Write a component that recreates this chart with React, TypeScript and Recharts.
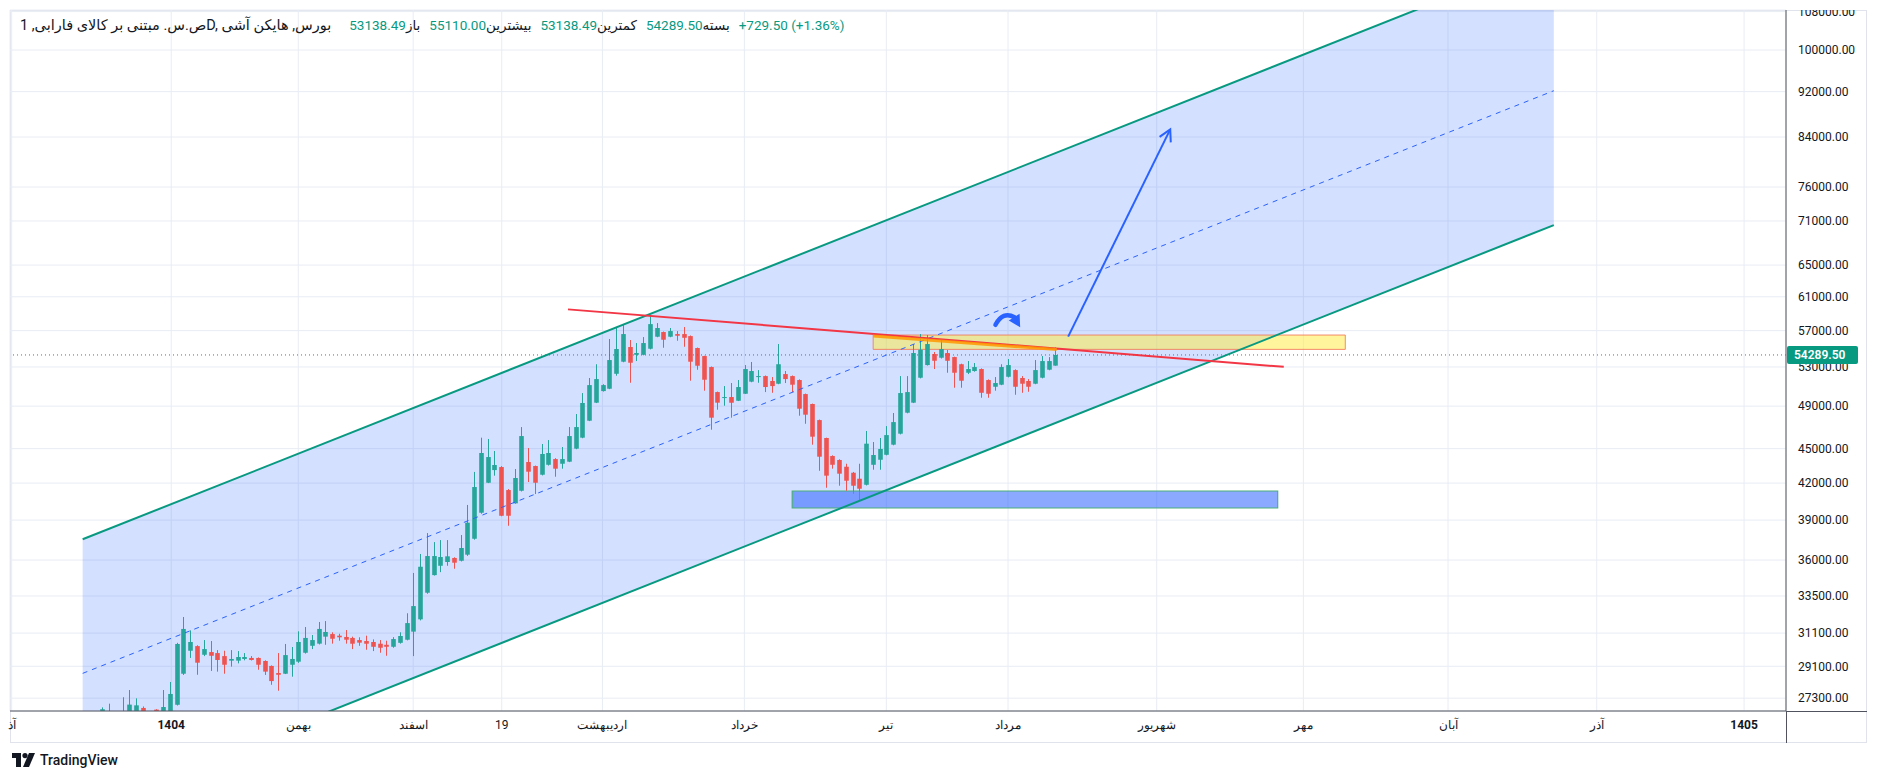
import React from 'react';
import {
  ComposedChart,
  Bar,
  XAxis,
  YAxis,
  CartesianGrid,
  ReferenceLine,
  ReferenceArea,
  ReferenceDot,
} from 'recharts';

// daily Heikin Ashi candles, index 0 = first bar on the chart
const opens = [26500, 26300, 26400, 26300, 26400, 26500, 26770, 26500, 26680, 26500,
  26550, 26940, 28670, 30020, 30300, 29780, 29940, 29880, 29700, 29430,
  29430, 29530, 29590, 29590, 29410, 29120, 28710, 28670, 29190, 29370,
  29900, 30320, 30450, 30880, 31040, 30940, 30860, 30800, 30670, 30610,
  30550, 30445, 30380, 30260, 30500, 30690, 31190, 31970, 33720, 34930,
  35590, 35860, 36150, 35950, 36390, 37570, 39580, 42030, 43110, 43370,
  41420, 40330, 41360, 43810, 43460, 42710, 43570, 44070, 43660, 43840,
  45000, 46000, 47590, 49340, 50500, 50740, 52280, 53560, 55160, 54310,
  54310, 54970, 56310, 56840, 56310, 56610, 56610, 56380, 55050, 54170,
  52990, 50400, 49850, 49900, 49530, 50230, 51460, 51980, 52040, 51530,
  51250, 52250, 52040, 51630, 50200, 49210, 47650, 45970, 44340, 43990,
  43400, 42880, 42370, 41860, 43570, 44010, 44450, 45360, 46370, 48360,
  49340, 51870, 53200, 54390, 53990, 54500, 54060, 53290, 52390, 52570,
  52780, 51630, 50940, 51150, 51970, 52670, 51840, 51530, 51250, 51870,
  52710, 53138.49];

const highs = [26800, 27000, 26500, 27350, 27750, 27290, 26850, 26580, 26700, 27750,
  28200, 30500, 32120, 31270, 30350, 30670, 30610, 30060, 30020, 30060,
  30000, 29880, 29700, 29620, 29450, 29150, 29880, 30430, 30245, 31210,
  31480, 30980, 31800, 31860, 31150, 31060, 31290, 30880, 30840, 30940,
  30710, 30670, 30630, 30850, 31150, 32360, 35080, 36440, 38000, 37320,
  37470, 37470, 36200, 37850, 40200, 42950, 46000, 45880, 44790, 43450,
  41500, 43200, 46990, 45055, 43500, 45420, 45780, 44150, 45145, 46990,
  48230, 50300, 51840, 53290, 51200, 56050, 57300, 57640, 55940, 55600,
  56270, 58810, 57870, 56900, 57300, 56950, 57410, 56450, 55100, 54200,
  53050, 50450, 51010, 51320, 51630, 53200, 53530, 52670, 52100, 51940,
  55490, 52570, 52100, 51700, 50250, 49250, 47700, 46000, 44400, 44050,
  43660, 42950, 43660, 46620, 45600, 45970, 47080, 48330, 52040, 52040,
  55490, 56610, 56500, 54610, 56050, 54830, 54100, 53350, 53630, 53420,
  52850, 51700, 51940, 53290, 53850, 52750, 52040, 51730, 53740, 54170,
  54060, 55110];

const lows = [26300, 26100, 26000, 26200, 26300, 26400, 26300, 26200, 26400, 26400,
  26450, 26900, 28600, 29590, 28610, 29700, 28830, 28790, 28670, 29080,
  29270, 29450, 29440, 28900, 28600, 28040, 27710, 28650, 28500, 29300,
  29850, 30120, 30400, 30380, 30450, 30630, 30450, 30120, 30320, 30080,
  30000, 29900, 29720, 30200, 30450, 30650, 29700, 31900, 33650, 34900,
  35140, 35590, 35380, 35900, 36300, 37500, 39500, 42000, 42630, 39300,
  38560, 40300, 41300, 42090, 41090, 42650, 43500, 42540, 43230, 43800,
  44950, 45950, 47550, 49300, 50450, 50700, 52080, 53500, 51350, 53630,
  54250, 54900, 56250, 55080, 56250, 55860, 55190, 51560, 52700, 50540,
  46740, 48650, 49040, 47880, 49500, 50200, 51400, 51350, 50400, 50330,
  51200, 51320, 50400, 48070, 47300, 45360, 43050, 41610, 43230, 41780,
  41360, 41120, 40600, 41800, 43140, 43140, 44400, 45300, 46300, 48300,
  49300, 51800, 53150, 52780, 53900, 52390, 50840, 50840, 52250, 52500,
  49830, 49830, 50540, 51100, 51900, 50130, 50330, 50430, 51200, 51800,
  52650, 53138.49];

const closes = [26700, 26600, 26200, 26550, 26950, 26910, 26400, 26300, 26500, 26820,
  27530, 30430, 31360, 30550, 29310, 30120, 29720, 29470, 29190, 29530,
  29645, 29645, 29470, 29190, 28790, 28250, 28610, 29760, 29530, 30550,
  30800, 30670, 31360, 31170, 30750, 30840, 30690, 30445, 30510, 30445,
  30260, 30200, 30260, 30730, 30920, 31730, 32830, 35520, 36290, 36290,
  36220, 36270, 35810, 36880, 38800, 41670, 44610, 44250, 43550, 39340,
  39340, 42430, 46150, 42970, 42030, 44520, 44610, 43230, 44070, 46150,
  46990, 49310, 51110, 51730, 51110, 53740, 54940, 56610, 53450, 54500,
  55600, 57750, 57300, 55970, 56950, 56420, 56190, 53560, 53130, 51660,
  47880, 49340, 49900, 49335, 50910, 52780, 52570, 52040, 50910, 51010,
  53290, 51730, 51150, 48750, 48170, 46090, 44280, 42630, 43570, 42800,
  42200, 41780, 41530, 45450, 44430, 44970, 46240, 47460, 50300, 50400,
  54500, 54860, 55490, 53660, 54940, 53660, 52390, 51560, 52780, 52990,
  50330, 50230, 51320, 52990, 53200, 50940, 51250, 50940, 52670, 53630,
  53630, 54289.5];

// time axis (bar index) and price axis
const timeTicks = [-13.4, 10.2, 29, 46, 59.1, 74, 95, 116, 134, 156, 177.7, 199.1, 221.1, 242.9];
const timeLabels = ['آذ', '1404', 'بهمن', 'اسفند', '19', 'اردیبهشت', 'خرداد', 'تیر', 'مرداد', 'شهریور', 'مهر', 'آبان', 'آذر', '1405'];
const priceTicks = [27300, 29100, 31100, 33500, 36000, 39000, 42000, 45000, 49000, 53000,
  57000, 61000, 65000, 71000, 76000, 84000, 92000, 100000, 108000];
const xDomain = [-13.65, 249.1];
const yDomain = [26607, 108342];

// legend
const title = 'ص.س. مبتنی بر کالای فارابی, 1D, بورس, هایکن آشی';
const ohlcLabels = ['باز', 'بیشترین', 'کمترین', 'بسته'];
const ohlcValues = ['53138.49', '55110.00', '53138.49', '54289.50'];
const changeText = '+729.50 (+1.36%)';
const lastClose = 54289.5;

// drawings: [start, end] in bar index / price
const channelX = [-2.9, 214.75];
const channelUpper = [37530, 120900];
const channelLower = [21850, 70420];
const channelMid = [28690, 92170];
const redLineX = [68.9, 174.8];
const redLineY = [59480, 53010];
const orangeLineX = [114.05, 141.2];
const orangeLineY = [56385, 54880];
const arrowX = [142.9, 158.0];
const arrowY = [56320, 85300];
const yellowBoxX = [114.05, 183.9];
const yellowBoxY = [54900, 56500];
const blueBoxX = [102.07, 173.9];
const blueBoxY = [39955, 41340];
const curlX = 133.7;
const curlY = 58250;

const GREEN = '#26a69a';
const RED = '#ef5350';
const TEAL = '#089981';
const BLUE = '#2962ff';
const TEXT = '#131722';

const candles = opens.map((o, i) => ({
  i,
  o,
  h: highs[i],
  l: lows[i],
  c: closes[i],
  range: [lows[i], highs[i]],
}));

function Candle(props: any) {
  const { x, y, width, height, payload } = props;
  if (!payload || !Number.isFinite(y) || !Number.isFinite(height)) return null;
  const { o, h, l, c } = payload;
  const top = Math.min(y, y + height);
  const full = Math.abs(height);
  const lh = Math.log(h);
  const ll = Math.log(l);
  const toY = (v: number) => (lh === ll ? top : top + (full * (lh - Math.log(v))) / (lh - ll));
  const cx = Math.round(x + width / 2) + 0.5;
  const color = c >= o ? GREEN : RED;
  const bTop = toY(Math.max(o, c));
  const bBot = toY(Math.min(o, c));
  return (
    <g>
      <line x1={cx} x2={cx} y1={top} y2={top + full} stroke={color} strokeWidth={1} />
      <rect x={cx - 2.3} y={bTop} width={4.6} height={Math.max(1, bBot - bTop)} fill={color} />
    </g>
  );
}

function ChannelFill(props: any) {
  const { x, y, width, height, clipPath } = props;
  if (![x, y, width, height].every(Number.isFinite)) return null;
  const lt = Math.log(channelUpper[1]);
  const lb = Math.log(channelLower[0]);
  const toY = (v: number) => y + (height * (lt - Math.log(v))) / (lt - lb);
  const pts = `${x},${toY(channelUpper[0])} ${x + width},${y} ${x + width},${toY(channelLower[1])} ${x},${y + height}`;
  return <polygon points={pts} fill={BLUE} fillOpacity={0.2} clipPath={clipPath} />;
}

function ArrowLine(props: any) {
  const { x1, y1, x2, y2, clipPath } = props;
  const a = Math.atan2(y2 - y1, x2 - x1);
  const len = 13;
  const s = 0.5;
  const ax = x2 - len * Math.cos(a - s);
  const ay = y2 - len * Math.sin(a - s);
  const bx = x2 - len * Math.cos(a + s);
  const by = y2 - len * Math.sin(a + s);
  return (
    <g clipPath={clipPath}>
      <line x1={x1} y1={y1} x2={x2} y2={y2} stroke={BLUE} strokeWidth={2} />
      <polyline points={`${ax},${ay} ${x2},${y2} ${bx},${by}`} fill="none" stroke={BLUE} strokeWidth={2} />
    </g>
  );
}

function CurlArrow(props: any) {
  const { cx, cy } = props;
  if (!Number.isFinite(cx)) return null;
  return (
    <g transform={`translate(${cx},${cy})`}>
      <path d="M -10.5 5 Q -3 -9 8.5 -2.5" fill="none" stroke={BLUE} strokeWidth={4.5} strokeLinecap="round" />
      <polygon points="2.8,0.6 13.6,-6 14.2,7.5" fill={BLUE} />
    </g>
  );
}

function PriceBadge(props: any) {
  const vb = props.viewBox || {};
  if (!Number.isFinite(vb.x)) return null;
  const x = vb.x + vb.width;
  const y = vb.y;
  return (
    <g>
      <rect x={x + 1} y={y - 9} width={71} height={18} rx={2} fill={TEAL} />
      <text x={x + 8} y={y + 4.5} fill="#fff" fontSize={12} fontWeight={600} fontFamily="Roboto, sans-serif">
        {lastClose.toFixed(2)}
      </text>
    </g>
  );
}

function TimeTick(props: any) {
  const { x, y, payload } = props;
  const idx = timeTicks.indexOf(payload.value);
  const label = idx >= 0 ? timeLabels[idx] : '';
  const bold = label === '1404' || label === '1405';
  return (
    <text x={x} y={y + 18} textAnchor="middle" fontSize={12} fontWeight={bold ? 700 : 400} fill={TEXT} fontFamily="Roboto, sans-serif">
      {label}
    </text>
  );
}

export default function App() {
  return (
    <div style={{ position: 'absolute', left: 0, top: 0, width: 1879, height: 781, background: '#fff', fontFamily: 'Roboto, "DejaVu Sans", sans-serif', overflow: 'hidden' }}>
      <div style={{ position: 'absolute', left: 10, top: 10, width: 1857, height: 733, border: '1px solid #e0e3eb', boxSizing: 'border-box' }} />
      <div style={{ position: 'absolute', left: 0, top: 0 }}>
        <ComposedChart width={1879} height={745} data={candles} margin={{ top: 10, right: 12, bottom: 2, left: 10 }}>
          <CartesianGrid stroke="#e8ecf4" />
          <XAxis
            dataKey="i"
            type="number"
            domain={xDomain}
            allowDataOverflow
            ticks={timeTicks}
            interval={0}
            tick={<TimeTick />}
            tickLine={false}
            tickSize={0}
            tickMargin={0}
            height={32}
            axisLine={{ stroke: '#50535e' }}
          />
          <YAxis
            orientation="right"
            scale="log"
            domain={yDomain}
            allowDataOverflow
            ticks={priceTicks}
            interval={0}
            tickFormatter={(v: number) => v.toFixed(2)}
            tick={{ fill: TEXT, fontSize: 12, fontFamily: 'Roboto, sans-serif' }}
            tickLine={false}
            tickSize={6}
            tickMargin={6}
            width={81}
            axisLine={{ stroke: '#50535e' }}
          />
          <ReferenceArea
            x1={channelX[0]}
            x2={channelX[1]}
            y1={channelLower[0]}
            y2={channelUpper[1]}
            ifOverflow="hidden"
            shape={ChannelFill}
            zIndex={100}
          />
          <ReferenceArea
            x1={blueBoxX[0]}
            x2={blueBoxX[1]}
            y1={blueBoxY[0]}
            y2={blueBoxY[1]}
            fill={BLUE}
            fillOpacity={0.55}
            stroke="#4caf7a"
            strokeWidth={1.2}
            zIndex={150}
          />
          <ReferenceArea
            x1={yellowBoxX[0]}
            x2={yellowBoxX[1]}
            y1={yellowBoxY[0]}
            y2={yellowBoxY[1]}
            fill="#ffeb3b"
            fillOpacity={0.5}
            stroke="#f2785a"
            strokeOpacity={0.85}
            strokeWidth={1}
            zIndex={150}
          />
          <Bar dataKey="range" barSize={5} shape={Candle} isAnimationActive={false} zIndex={300} />
          <ReferenceLine
            segment={[{ x: channelX[0], y: channelMid[0] }, { x: channelX[1], y: channelMid[1] }]}
            stroke={BLUE}
            strokeWidth={1}
            strokeDasharray="5 5"
            ifOverflow="hidden"
            zIndex={400}
          />
          <ReferenceLine
            segment={[{ x: channelX[0], y: channelUpper[0] }, { x: channelX[1], y: channelUpper[1] }]}
            stroke={TEAL}
            strokeWidth={2}
            ifOverflow="hidden"
            zIndex={400}
          />
          <ReferenceLine
            segment={[{ x: channelX[0], y: channelLower[0] }, { x: channelX[1], y: channelLower[1] }]}
            stroke={TEAL}
            strokeWidth={2}
            ifOverflow="hidden"
            zIndex={400}
          />
          <ReferenceLine
            segment={[{ x: redLineX[0], y: redLineY[0] }, { x: redLineX[1], y: redLineY[1] }]}
            stroke="#f23645"
            strokeWidth={2}
            ifOverflow="hidden"
            zIndex={400}
          />
          <ReferenceLine
            segment={[{ x: orangeLineX[0], y: orangeLineY[0] }, { x: orangeLineX[1], y: orangeLineY[1] }]}
            stroke="#ff9800"
            strokeOpacity={0.85}
            strokeWidth={3}
            ifOverflow="hidden"
            zIndex={400}
          />
          <ReferenceLine
            segment={[{ x: arrowX[0], y: arrowY[0] }, { x: arrowX[1], y: arrowY[1] }]}
            shape={ArrowLine}
            ifOverflow="hidden"
            zIndex={400}
          />
          <ReferenceDot x={curlX} y={curlY} r={0} shape={CurlArrow} ifOverflow="visible" zIndex={400} />
          <ReferenceLine
            y={lastClose}
            stroke={TEAL}
            strokeWidth={1}
            strokeDasharray="1 3"
            label={PriceBadge}
            zIndex={2100}
          />
        </ComposedChart>
      </div>
      {/* clip the top price label at the frame edge */}
      <div style={{ position: 'absolute', left: 1787, top: 0, width: 92, height: 10, background: '#fff' }} />
      <div style={{ position: 'absolute', left: 1786, top: 711, width: 1, height: 32, background: '#50535e' }} />
      <div style={{ position: 'absolute', left: 1786, top: 711, width: 81, height: 1, background: '#50535e' }} />
      <div style={{ position: 'absolute', left: 20, top: 16, height: 18, display: 'flex', alignItems: 'center', color: TEXT, whiteSpace: 'nowrap', fontSize: 13.5 }}>
        <span style={{ direction: 'ltr', fontSize: 14.5, marginRight: 18 }}>{title}</span>
        {ohlcLabels.map((lab, k) => (
          <span key={lab} style={{ direction: 'ltr', unicodeBidi: 'isolate', marginRight: 9 }}>
            <span>{lab}</span>
            <span style={{ color: TEAL }}>{ohlcValues[k]}</span>
          </span>
        ))}
        <span style={{ color: TEAL, direction: 'ltr', unicodeBidi: 'isolate' }}>{changeText}</span>
      </div>
      <div style={{ position: 'absolute', left: 12, top: 752, display: 'flex', alignItems: 'center', color: TEXT }}>
        <svg width={24} height={14} viewBox="0 0 24 14">
          <path d="M0 0 H9 V14 H4 V5 H0 Z" fill={TEXT} />
          <circle cx={13} cy={2.6} r={2.6} fill={TEXT} />
          <path d="M17 0 H23 L17 14 H11 Z" fill={TEXT} />
        </svg>
        <span style={{ marginLeft: 4, fontSize: 14, fontWeight: 500 }}>TradingView</span>
      </div>
    </div>
  );
}
